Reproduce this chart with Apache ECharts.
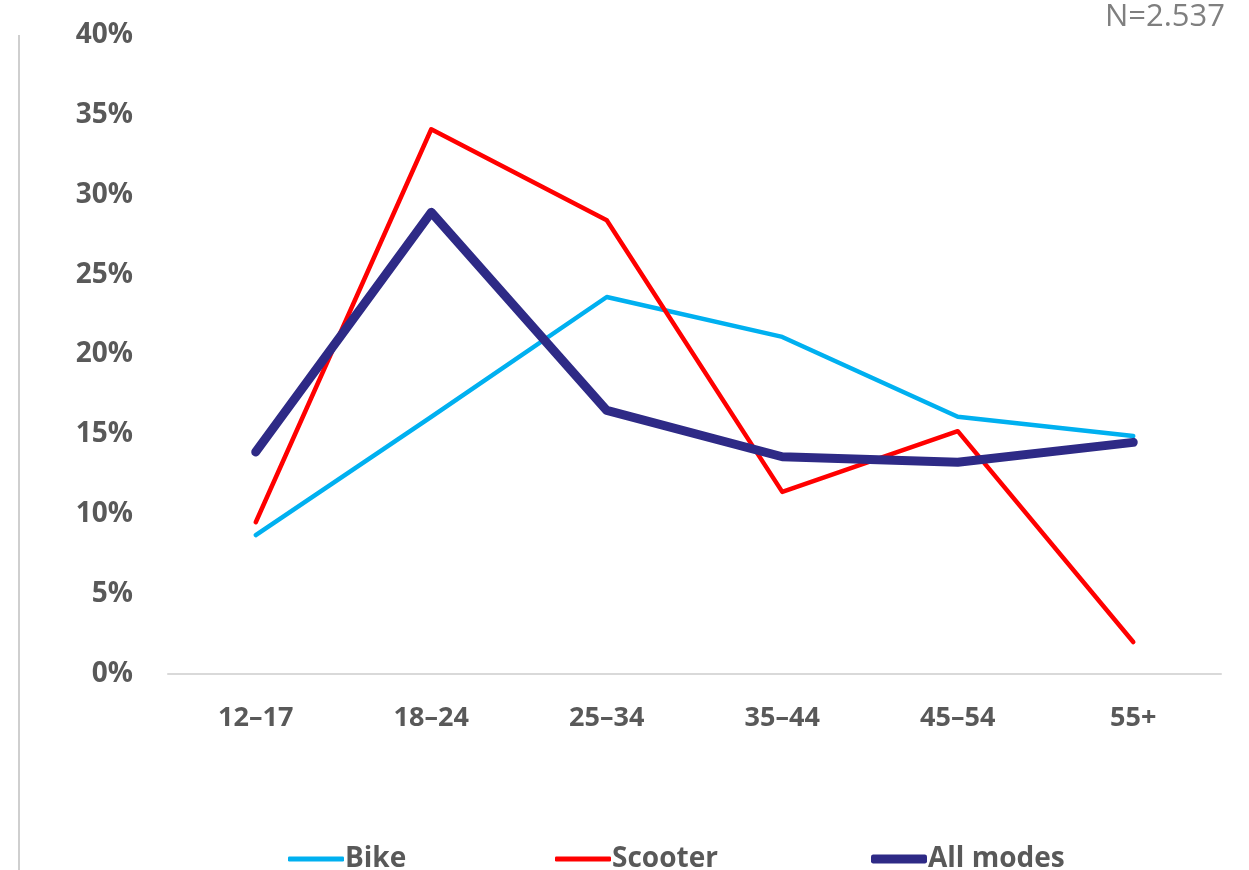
<!DOCTYPE html>
<html>
<head>
<meta charset="utf-8">
<script src="https://cdn.jsdelivr.net/npm/echarts@6/dist/echarts.min.js"></script>
<style>
html,body{margin:0;padding:0;background:#fff;}
#chart{width:1249px;height:870px;}
</style>
</head>
<body>
<div id="chart"></div>
<script>
const categories = ['12–17', '18–24', '25–34', '35–44', '45–54', '55+'];
const bike = [8.7, 16.1, 23.6, 21.1, 16.1, 14.9];
const scooter = [9.5, 34.1, 28.4, 11.4, 15.2, 2.0];
const allModes = [13.9, 28.9, 16.5, 13.6, 13.25, 14.5];
const yTicks = [0, 5, 10, 15, 20, 25, 30, 35, 40];
const noteText = 'N=2.537';

const FONT = '"Open Sans", "Noto Sans", sans-serif';
const legendText = {fontFamily: FONT, fontSize: 28, fontWeight: 'bold', color: '#595959', padding: [0, 0, 0, -4]};
function mkLegend(name, left, h) {
  return {
    left: left, top: 840, icon: 'roundRect', itemWidth: 56, itemHeight: h,
    textStyle: legendText, data: [name]
  };
}
const chart = echarts.init(document.getElementById('chart'), null, {renderer: 'canvas'});
chart.setOption({
  animation: false,
  backgroundColor: '#fff',
  grid: {left: 168, right: 28, top: 35, bottom: 196, containLabel: false},
  graphic: [
    {type: 'line', shape: {x1: 19, y1: 35, x2: 19, y2: 870}, style: {stroke: '#cfcfcf', lineWidth: 2}},
    {type: 'text', right: 24, top: 2, style: {text: noteText, fill: '#7f7f7f', font: '31px ' + FONT}}
  ],
  legend: [
    mkLegend('Bike', 283, 5),
    mkLegend('Scooter', 550, 5),
    mkLegend('All modes', 866, 9)
  ],
  xAxis: {
    type: 'category',
    data: categories,
    boundaryGap: true,
    axisLine: {lineStyle: {color: '#d9d9d9', width: 2}},
    axisTick: {show: false},
    axisLabel: {fontFamily: FONT, fontSize: 27, fontWeight: 'bold', color: '#595959', margin: 31}
  },
  yAxis: {
    type: 'value',
    min: 0, max: 40, interval: 5,
    axisLine: {show: false},
    axisTick: {show: false},
    splitLine: {show: false},
    axisLabel: {
      fontFamily: FONT, fontSize: 28, fontWeight: 'bold', color: '#595959', margin: 35,
      formatter: v => yTicks.includes(v) ? v + '%' : ''
    }
  },
  series: [
    {name: 'Bike', type: 'line', data: bike, symbol: 'none', lineStyle: {color: '#00B0F0', width: 4.5, cap: 'round', join: 'round'}, itemStyle: {color: '#00B0F0'}},
    {name: 'Scooter', type: 'line', data: scooter, symbol: 'none', lineStyle: {color: '#FF0000', width: 4.5, cap: 'round', join: 'round'}, itemStyle: {color: '#FF0000'}},
    {name: 'All modes', type: 'line', data: allModes, symbol: 'none', lineStyle: {color: '#2E2A86', width: 9, cap: 'round', join: 'round'}, itemStyle: {color: '#2E2A86'}}
  ]
});
</script>
</body>
</html>
